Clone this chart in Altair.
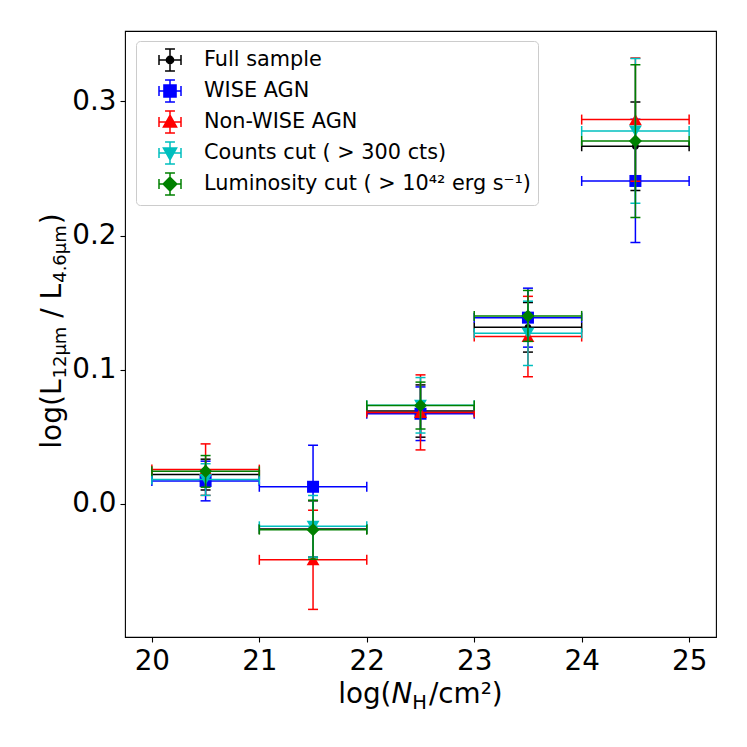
import altair as alt
import pandas as pd

# ---------------- data ----------------
series_names = [
    "Full sample",
    "WISE AGN",
    "Non-WISE AGN",
    "Counts cut ( > 300 cts)",
    "Luminosity cut ( > 10⁴² erg s⁻¹)",
]
nh_bins = [20.5, 21.5, 22.5, 23.5, 24.5]
nh_halfwidth = [0.5, 0.5, 0.5, 0.5, 0.5]

full_y = [0.0216, -0.019, 0.069, 0.1315, 0.2666]
full_err = [0.0115, 0.021, 0.0195, 0.0185, 0.033]
wise_y = [0.0168, 0.0125, 0.067, 0.1387, 0.2407]
wise_err = [0.0148, 0.031, 0.020, 0.022, 0.046]
nonwise_y = [0.0253, -0.042, 0.068, 0.1246, 0.2865]
nonwise_err = [0.0192, 0.037, 0.028, 0.030, 0.046]
counts_y = [0.0179, -0.017, 0.0733, 0.127, 0.278]
counts_err = [0.0118, 0.023, 0.0207, 0.024, 0.054]
lum_y = [0.024, -0.0195, 0.0731, 0.140, 0.2705]
lum_err = [0.0118, 0.022, 0.0175, 0.019, 0.057]

series_y = [full_y, wise_y, nonwise_y, counts_y, lum_y]
series_err = [full_err, wise_err, nonwise_err, counts_err, lum_err]

rows = []
for name, ys, es in zip(series_names, series_y, series_err):
    for xb, xe, yv, ye in zip(nh_bins, nh_halfwidth, ys, es):
        rows.append({"series": name, "x": xb, "xerr": xe, "y": yv, "yerr": ye})
df = pd.DataFrame(rows)

# ---------------- styles ----------------
colors = ["#000000", "#0000ff", "#ff0000", "#00bfbf", "#008000"]
marker_shapes = ["circle", "square", "triangle-up", "triangle-down", "diamond"]
marker_sizes = [45, 144, 165, 165, 170]

FONT = "DejaVu Sans"
TICK_FS = 27.8
LEG_FS = 20.8

xscale = alt.Scale(domain=[19.75, 25.25], nice=False, zero=False)
yscale = alt.Scale(domain=[-0.0996, 0.3526], nice=False, zero=False)
xaxis = alt.Axis(values=[20, 21, 22, 23, 24, 25], format="d", title=None, grid=False,
                 domain=False, tickSize=5, tickWidth=1.1, tickColor="black",
                 labelFontSize=TICK_FS, labelFont=FONT, labelColor="black",
                 labelPadding=5, labelOverlap=False, labelFlush=False)
yaxis = alt.Axis(values=[0.0, 0.1, 0.2, 0.3], format=".1f", title=None, grid=False,
                 domain=False, tickSize=5, tickWidth=1.1, tickColor="black",
                 labelFontSize=TICK_FS, labelFont=FONT, labelColor="black",
                 labelPadding=4, labelOverlap=False, labelFlush=False)
cscale = alt.Scale(domain=series_names, range=colors)


def X(f):
    return alt.X(f"{f}:Q", scale=xscale, axis=xaxis)


def Y(f):
    return alt.Y(f"{f}:Q", scale=yscale, axis=yaxis)


color_nolegend = alt.Color("series:N", scale=cscale, legend=None)

base = alt.Chart(df).transform_calculate(
    x_lo="datum.x - datum.xerr",
    x_hi="datum.x + datum.xerr",
    y_lo="datum.y - datum.yerr",
    y_hi="datum.y + datum.yerr",
)

# ---------------- legend (error-bar style symbols), invisible carrier layer ----------------
cross = ("M-1,0L1,0M0,-1L0,1M-1,-0.45L-1,0.45M1,-0.45L1,0.45"
         "M-0.45,-1L0.45,-1M-0.45,1L0.45,1")
legend_paths = [
    cross + "M0.33,0A0.33,0.33,0,1,1,-0.33,0A0.33,0.33,0,1,1,0.33,0Z",
    cross + "M-0.55,-0.55L0.55,-0.55L0.55,0.55L-0.55,0.55Z",
    cross + "M0,-0.62L0.6,0.45L-0.6,0.45Z",
    cross + "M0,0.62L0.6,-0.45L-0.6,-0.45Z",
    cross + "M0,-0.62L0.62,0L0,0.62L-0.62,0Z",
]
leg = alt.Legend(title=None, orient="none", legendX=11, legendY=10,
                 labelFont=FONT, labelFontSize=LEG_FS, labelColor="black",
                 labelLimit=500, padding=7, symbolOffset=15, labelOffset=22,
                 rowPadding=3, strokeColor="#cccccc", fillColor="rgba(255,255,255,0.8)",
                 cornerRadius=4, symbolSize=484, symbolStrokeWidth=1.5,
                 symbolOpacity=1)

layers = [
    alt.Chart(df).mark_point(filled=True, size=1, opacity=0, strokeWidth=1.5).encode(
        x=X("x"), y=Y("y"),
        color=alt.Color("series:N", scale=cscale, legend=leg),
        stroke=alt.Stroke("series:N", scale=alt.Scale(domain=series_names, range=colors), legend=leg),
        shape=alt.Shape("series:N", scale=alt.Scale(domain=series_names, range=legend_paths), legend=leg),
    )
]

for name, shp, sz in zip(series_names, marker_shapes, marker_sizes):
    b = base.transform_filter(alt.datum.series == name)
    layers.append(b.mark_rule(strokeWidth=1.5).encode(x=X("x_lo"), x2="x_hi:Q", y=Y("y"), color=color_nolegend))
    layers.append(b.mark_rule(strokeWidth=1.5).encode(x=X("x"), y=Y("y_lo"), y2="y_hi:Q", color=color_nolegend))
    for fx in ["x_lo", "x_hi"]:
        layers.append(b.mark_tick(orient="vertical", size=10, thickness=1.5, opacity=1)
                      .encode(x=X(fx), y=Y("y"), color=color_nolegend))
    for fy in ["y_lo", "y_hi"]:
        layers.append(b.mark_tick(orient="horizontal", size=10, thickness=1.5, opacity=1)
                      .encode(x=X("x"), y=Y(fy), color=color_nolegend))
    layers.append(b.mark_point(filled=True, shape=shp, size=sz, opacity=1)
                  .encode(x=X("x"), y=Y("y"), color=color_nolegend))

# ---------------- axis titles with sub/superscripts ----------------
ADV = {"l": 569, "o": 1253, "g": 1300, "(": 799, ")": 799, "L": 1141, "1": 1303,
       "2": 1303, "4": 1303, "6": 1303, ".": 651, "μ": 1300, "m": 1995, " ": 651,
       "/": 690, "c": 1126, "N": 1532, "H": 1540, "²": 832}


def tw(s, fs):
    return sum(ADV[c] for c in s) * fs / 2048.0


one = alt.Data(values=[{}])


def piece(text, x, y, fs, angle=0, italic=False):
    kw = dict(text=text, font=FONT, fontSize=fs, color="black", align="left",
              baseline="alphabetic")
    if angle:
        kw["angle"] = angle
    if italic:
        kw["fontStyle"] = "italic"
    return alt.Chart(one).mark_text(**kw).encode(x=alt.value(x), y=alt.value(y))


# y title: log(L_12μm / L_4.6μm) -- (text, size, gap_after, baseline shift)
YM, YS = 28.0, 18.0
space = tw(" ", YM)
ypieces = [("log(L", YM, 1, 0), ("12μm", YS, space, 5), ("/", YM, space, 0),
           ("L", YM, 1, 0), ("4.6μm", YS, 1, 5), (")", YM, 0, 0)]
ytotal = sum(tw(t, f) + g for t, f, g, _ in ypieces)
ypos = 300 + ytotal / 2
for t, f, g, sh in ypieces:
    layers.append(piece(t, -64 + sh, ypos, f, angle=270))
    ypos -= tw(t, f) + g

# x title: log(N_H/cm²)
XM, XS = 27.8, 19.5
xpieces = [("log(", XM, False, 0, 0), ("N", XM, True, 0, 0), ("H", XS, False, 6, 2), ("/cm²)", XM, False, 0, 0)]
xtotal = sum(tw(t, f) + g for t, f, _, _, g in xpieces)
xpos = 295.5 - xtotal / 2
for t, f, it, dy, g in xpieces:
    layers.append(piece(t, xpos, 672 + dy, f, italic=it))
    xpos += tw(t, f) + g

chart = alt.layer(*layers).properties(
    width=591, height=606,
    autosize=alt.AutoSizeParams(type="none"),
    padding={"left": 117, "top": 23, "right": 20, "bottom": 90},
).configure(font=FONT).configure_view(stroke="black", strokeWidth=1.1)

chart.save("out.html", embed_options={"renderer": "svg", "actions": False})
